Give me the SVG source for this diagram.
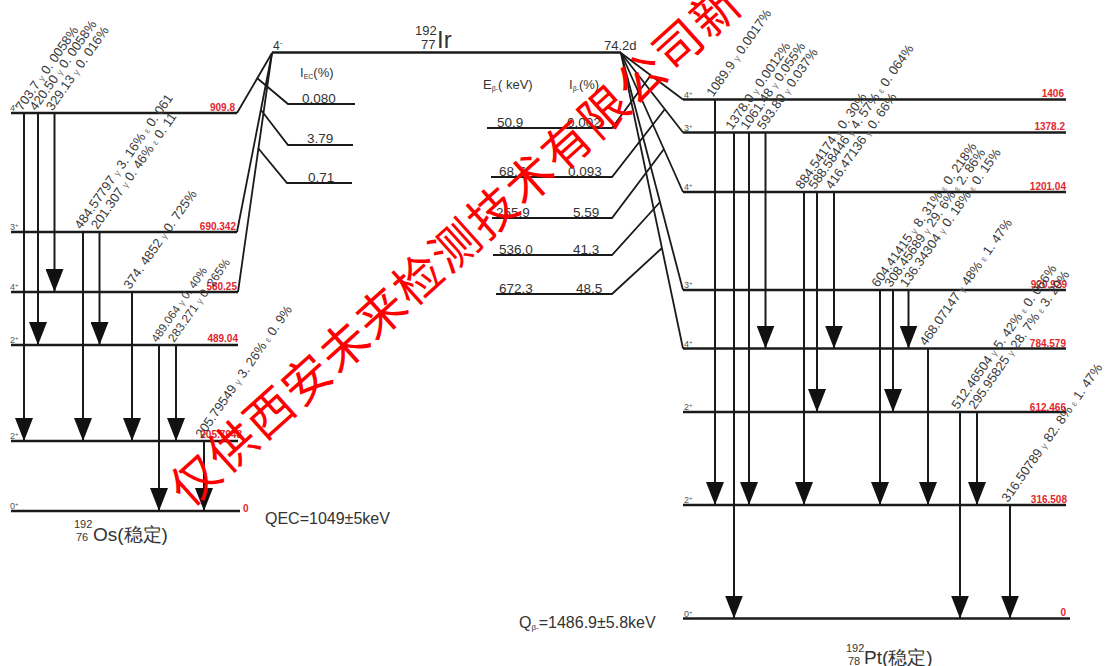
<svg xmlns="http://www.w3.org/2000/svg" width="1113" height="666" viewBox="0 0 1113 666">
<style>
.lv{stroke:#1a1a1a;stroke-width:2.6;fill:none}
.ln{stroke:#1a1a1a;stroke-width:1.8;fill:none}
.tr{stroke:#1a1a1a;stroke-width:2;fill:none;marker-end:url(#ah)}
.t{font-family:"Liberation Sans",Arial,sans-serif;fill:#333}
.gl{font-family:"Liberation Sans",Arial,sans-serif;font-size:13px;fill:#3a3a3a}
.s{font-size:9px;fill:#777}
.rd{font-family:"Liberation Sans",Arial,sans-serif;font-size:10px;font-weight:bold;fill:#e3262d;text-anchor:end}
.sp{font-family:"Liberation Sans",Arial,sans-serif;font-size:9px;fill:#555}
.v{font-family:"Liberation Sans",Arial,sans-serif;font-size:13.5px;fill:#333}
.wm{font-family:"Noto Sans CJK SC",sans-serif;font-size:48px;letter-spacing:2px;fill:#ff0000}
</style>
<defs>
<marker id="ah" markerUnits="userSpaceOnUse" markerWidth="24" markerHeight="18" viewBox="0 0 24 18" refX="23" refY="9" orient="auto">
<path d="M0,0 L23,9 L0,18 Z" fill="#111"/>
</marker>
</defs>
<rect width="1113" height="666" fill="#ffffff"/>

<!-- Parent Ir-192 -->
<g id="ir192">
<path class="lv" d="M272,52.5 L621,52.5"/>
<text class="t" x="415" y="35" font-size="13">192</text>
<text class="t" x="421" y="49" font-size="13">77</text>
<text class="t" x="437" y="48" font-size="24">Ir</text>
<text class="t" x="273" y="50" font-size="12">4<tspan dy="-5" font-size="8">-</tspan></text>
<text class="t" x="604" y="50" font-size="13">74.2d</text>
</g>

<!-- Os-192 levels -->
<g id="os909">
<path class="lv" d="M11,113 L237,113"/>
<text class="sp" x="10" y="111">4<tspan dy="-3" font-size="6">+</tspan></text>
<text class="rd" x="235" y="111">909.8</text>
</g>
<g id="os690">
<path class="lv" d="M11,232 L237,232"/>
<text class="sp" x="10" y="230">3<tspan dy="-3" font-size="6">+</tspan></text>
<text class="rd" x="236" y="230">690.342</text>
</g>
<g id="os580">
<path class="lv" d="M11,292 L238,292"/>
<text class="sp" x="10" y="290">4<tspan dy="-3" font-size="6">+</tspan></text>
<text class="rd" x="237" y="290">580.25</text>
</g>
<g id="os489">
<path class="lv" d="M11,345 L238,345"/>
<text class="sp" x="10" y="343">2<tspan dy="-3" font-size="6">+</tspan></text>
<text class="rd" x="238" y="342">489.04</text>
</g>
<g id="os205">
<path class="lv" d="M11,441 L238,441"/>
<text class="sp" x="10" y="439">2<tspan dy="-3" font-size="6">+</tspan></text>
<text class="rd" x="242" y="438">205.7948</text>
</g>
<g id="os0">
<path class="lv" d="M11,511 L240,511"/>
<text class="sp" x="10" y="509">0<tspan dy="-3" font-size="6">+</tspan></text>
<text class="rd" x="248" y="512" style="text-anchor:start" transform="translate(-5,0)">0</text>
</g>
<g id="os-label">
<text class="t" x="74" y="528" font-size="11">192</text>
<text class="t" x="76" y="541" font-size="11">76</text>
<text class="t" x="93" y="541" font-size="19">Os(稳定)</text>
<text class="t" x="265" y="524" font-size="16">QEC=1049±5keV</text>
</g>

<!-- EC intensities -->
<g id="ec-branches">
<text class="t" x="300" y="77" font-size="13">I<tspan font-size="7" dy="2">EC</tspan><tspan dy="-2">(%)</tspan></text>
<path class="ln" d="M257,78 L288,104 L355,104"/>
<text class="v" x="302" y="103">0.080</text>
<path class="ln" d="M261,110 L288,145 L353,145"/>
<text class="v" x="307" y="143">3.79</text>
<path class="ln" d="M258,148 L287,183 L352,183"/>
<text class="v" x="308" y="182">0.71</text>
</g>

<!-- Beta branches -->
<g id="beta-branches">
<text class="t" x="483" y="89" font-size="13">E<tspan font-size="7" dy="2">β-</tspan><tspan dy="-2">( keV)</tspan></text>
<text class="t" x="569" y="89" font-size="13">I<tspan font-size="7" dy="2">β-</tspan><tspan dy="-2">(%)</tspan></text>
<path class="ln" d="M651,75 L612,128 L487,128"/>
<text class="v" x="497" y="127">50.9</text><text class="v" x="567" y="127">0.002</text>
<path class="ln" d="M665,109 L612,177 L491,177"/>
<text class="v" x="499" y="176">68.7</text><text class="v" x="568" y="176">0.093</text>
<path class="ln" d="M664,149 L612,218 L492,218"/>
<text class="v" x="496" y="217">255.9</text><text class="v" x="573" y="217">5.59</text>
<path class="ln" d="M660,202 L612,255 L493,255"/>
<text class="v" x="499" y="254">536.0</text><text class="v" x="573" y="254">41.3</text>
<path class="ln" d="M662,248 L612,294 L496,294"/>
<text class="v" x="499" y="293">672.3</text><text class="v" x="576" y="293">48.5</text>
</g>

<!-- Pt-192 levels -->
<g id="pt1406">
<path class="lv" d="M683,99.5 L1066,99.5"/>
<text class="sp" x="684" y="97.5">4<tspan dy="-3" font-size="6">+</tspan></text>
<text class="rd" x="1064" y="97">1406</text>
</g>
<g id="pt1378">
<path class="lv" d="M683,132.5 L1066,132.5"/>
<text class="sp" x="684" y="130.5">3<tspan dy="-3" font-size="6">+</tspan></text>
<text class="rd" x="1065" y="130">1378.2</text>
</g>
<g id="pt1201">
<path class="lv" d="M683,192 L1066,192"/>
<text class="sp" x="684" y="190">4<tspan dy="-3" font-size="6">+</tspan></text>
<text class="rd" x="1066" y="189.5">1201.04</text>
</g>
<g id="pt920">
<path class="lv" d="M683,290 L1066,290"/>
<text class="sp" x="684" y="288">3<tspan dy="-3" font-size="6">+</tspan></text>
<text class="rd" x="1067" y="288">920.929</text>
</g>
<g id="pt784">
<path class="lv" d="M683,348.5 L1066,348.5"/>
<text class="sp" x="684" y="346.5">4<tspan dy="-3" font-size="6">+</tspan></text>
<text class="rd" x="1066" y="347">784.579</text>
</g>
<g id="pt612">
<path class="lv" d="M683,412 L1066,412"/>
<text class="sp" x="684" y="410">2<tspan dy="-3" font-size="6">+</tspan></text>
<text class="rd" x="1066" y="410.5">612.466</text>
</g>
<g id="pt316">
<path class="lv" d="M683,505 L1066,505"/>
<text class="sp" x="684" y="503">2<tspan dy="-3" font-size="6">+</tspan></text>
<text class="rd" x="1067" y="503">316.508</text>
</g>
<g id="pt0">
<path class="lv" d="M683,618.5 L1070,618.5"/>
<text class="sp" x="684" y="616.5">0<tspan dy="-3" font-size="6">+</tspan></text>
<text class="rd" x="1066" y="616">0</text>
</g>
<g id="pt-label">
<text class="t" x="519" y="628" font-size="16">Q<tspan font-size="8" dy="2">β-</tspan><tspan dy="-2">=1486.9±5.8keV</tspan></text>
<text class="t" x="846" y="652" font-size="11">192</text>
<text class="t" x="848" y="665" font-size="11">78</text>
<text class="t" x="864" y="664" font-size="19">Pt(稳定)</text>
</g>

<!-- Connectors -->
<g id="connectors">
<!-- EC feeding diagonals -->
<path class="ln" d="M272,53 L237,113"/>
<path class="ln" d="M272,53 L237,232"/>
<path class="ln" d="M272,53 L238,292"/>
<!-- beta feeding diagonals -->
<path class="ln" d="M621,53 L683,99.5"/>
<path class="ln" d="M621,53 L683,132.5"/>
<path class="ln" d="M621,53 L683,192"/>
<path class="ln" d="M621,53 L683,290"/>
<path class="ln" d="M621,53 L683,348.5"/>

<!-- Os gamma transitions -->
<path class="tr" d="M24,113 L24,441"/>
<path class="tr" d="M38,113 L38,345"/>
<path class="tr" d="M54.5,113 L54.5,292"/>
<path class="tr" d="M83,232 L83,441"/>
<path class="tr" d="M99.5,232 L99.5,345"/>
<path class="tr" d="M132,292 L132,441"/>
<path class="tr" d="M159,345 L159,511"/>
<path class="tr" d="M176,345 L176,441"/>
<path class="tr" d="M204,441 L204,511"/>

<!-- Pt gamma transitions -->
<path class="tr" d="M715,99.5 L715,505"/>
<path class="tr" d="M734,132.5 L734,618.5"/>
<path class="tr" d="M749,132.5 L749,505"/>
<path class="tr" d="M765.5,132.5 L765.5,348.5"/>
<path class="tr" d="M804,192 L804,505"/>
<path class="tr" d="M817,192 L817,412"/>
<path class="tr" d="M834,192 L834,348.5"/>
<path class="tr" d="M880,290 L880,505"/>
<path class="tr" d="M893,290 L893,412"/>
<path class="tr" d="M908.5,290 L908.5,348.5"/>
<path class="tr" d="M928,348.5 L928,505"/>
<path class="tr" d="M960,412 L960,618.5"/>
<path class="tr" d="M977,412 L977,505"/>
<path class="tr" d="M1010,505 L1010,618.5"/>
</g>

<!-- Transition labels -->
<g id="os-gamma-labels" class="gl">
<text transform="translate(22,111.5) rotate(-55)">703.7 <tspan class="s">γ</tspan> 0. 0058%</text>
<text transform="translate(36,111.5) rotate(-55)">420.50 <tspan class="s">γ</tspan> 0. 0058%</text>
<text transform="translate(52.5,111.5) rotate(-55)">329.13 <tspan class="s">γ</tspan> 0. 016%</text>
<text transform="translate(81,230) rotate(-55)">484.57797 <tspan class="s">γ</tspan> 3. 16% <tspan class="s">ε</tspan> 0. 061</text>
<text transform="translate(97.5,230) rotate(-55)">201.307 <tspan class="s">γ</tspan> 0. 46% <tspan class="s">ε</tspan> 0. 11</text>
<text transform="translate(130,290) rotate(-55)">374. 4852  <tspan class="s">γ</tspan> 0. 725%</text>
<text transform="translate(157,343) rotate(-55)" font-size="11.5">489.064 <tspan class="s">γ</tspan> 0. 40%</text>
<text transform="translate(174,343) rotate(-55)" font-size="12">283.271 <tspan class="s">γ</tspan> 0. 265%</text>
<text transform="translate(202,439) rotate(-55)">205.79549 <tspan class="s">γ</tspan> 3. 26% <tspan class="s">ε</tspan> 0. 9%</text>
</g>
<g id="pt-gamma-labels" class="gl">
<text transform="translate(713,97.5) rotate(-55)">1089.9 <tspan class="s">γ</tspan> 0.0017%</text>
<text transform="translate(732,130.5) rotate(-55)">1378.0 <tspan class="s">γ</tspan> 0.0012%</text>
<text transform="translate(747,130.5) rotate(-55)">1061.48 <tspan class="s">γ</tspan> 0.055%</text>
<text transform="translate(763.5,130.5) rotate(-55)">593.80 <tspan class="s">γ</tspan> 0.037%</text>
<text transform="translate(802,190) rotate(-55)">884.54174 <tspan class="s">γ</tspan> 0. 30%</text>
<text transform="translate(815,190) rotate(-55)">588.58446 <tspan class="s">γ</tspan> 4. 57% <tspan class="s">ε</tspan> 0. 064%</text>
<text transform="translate(832,190) rotate(-55)">416.47136 <tspan class="s">γ</tspan> 0. 66%</text>
<text transform="translate(878,288) rotate(-55)">604.41415 <tspan class="s">γ</tspan> 8. 31% <tspan class="s">ε</tspan> 0. 218%</text>
<text transform="translate(891,288) rotate(-55)">308.45689 <tspan class="s">γ</tspan> 29. 6% <tspan class="s">ε</tspan> 2. 86%</text>
<text transform="translate(906.5,288) rotate(-55)">136.34304 <tspan class="s">γ</tspan> 0. 18% <tspan class="s">ε</tspan> 0. 15%</text>
<text transform="translate(926,346.5) rotate(-55)">468.07147 <tspan class="s">γ</tspan> 48% <tspan class="s">ε</tspan> 1. 47%</text>
<text transform="translate(958,410) rotate(-55)">512.46504 <tspan class="s">γ</tspan> 5. 42% <tspan class="s">ε</tspan> 0. 066%</text>
<text transform="translate(975,410) rotate(-55)">295.95825 <tspan class="s">γ</tspan> 28. 7% <tspan class="s">ε</tspan> 3. 20%</text>
<text transform="translate(1008,503) rotate(-55)">316.50789 <tspan class="s">γ</tspan> 82. 8% <tspan class="s">ε</tspan> 1. 47%</text>
</g>

<!-- Watermark -->
<text class="wm" transform="translate(189,509) rotate(-42)">仅供西安未来检测技术有限公司新</text>
</svg>
